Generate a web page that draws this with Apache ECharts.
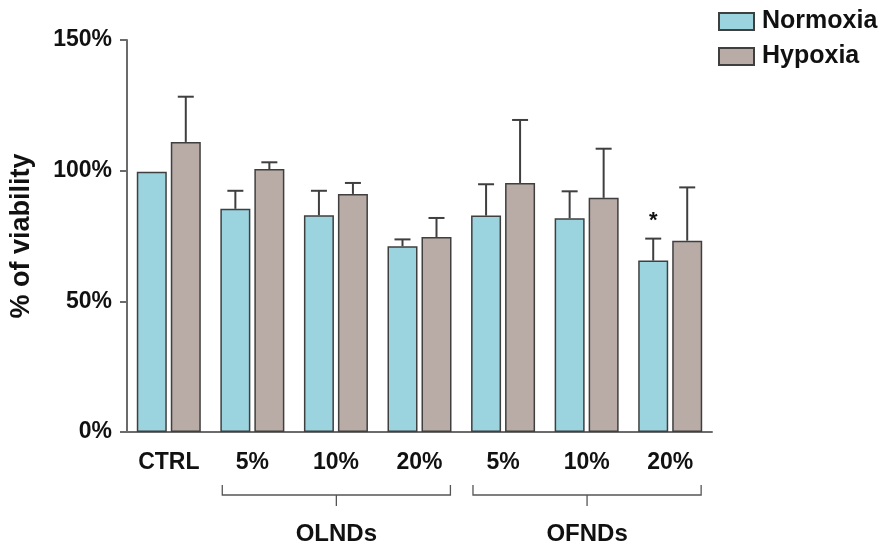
<!DOCTYPE html>
<html>
<head>
<meta charset="utf-8">
<script src="https://cdn.jsdelivr.net/npm/echarts@6/dist/echarts.min.js"></script>
<style>html,body{margin:0;padding:0;background:#fff}#c{width:888px;height:545px}</style>
</head>
<body>
<div id="c"></div>
<script>
// ---- data ----
const categories = ['CTRL', '5%', '10%', '20%', '5%', '10%', '20%'];
const normoxia    = [99.6, 85.4, 82.9, 71.1, 82.8, 81.8, 65.6];
const normoxiaSD  = [0,    6.9,  9.4,  2.6, 12.0, 10.3,  8.4];
const hypoxia     = [111.0, 100.6, 91.1, 74.6, 95.3, 89.6, 73.2];
const hypoxiaSD   = [17.3,  2.6,  4.2,  7.3, 24.1, 18.8, 20.4];
const normoxiaSig = ['', '', '', '', '', '', '*'];
const yTicks = [0, 50, 100, 150];
const groups = [
  { name: 'OLNDs', from: 1, to: 3 },
  { name: 'OFNDs', from: 4, to: 6 }
];

// ---- styling ----
const FONT = '"Liberation Sans", Arial, sans-serif';
const C_N = '#9bd3df';
const C_H = '#b9aca7';
const EDGE = '#3f3f3f';
const BAR_W = 30;
const BAR_GAP_PX = 4;
const OFFSET = (BAR_W + BAR_GAP_PX) / 2;

function errSeries(vals, sds, sign, sig) {
  return {
    type: 'custom',
    silent: true,
    z: 5,
    data: vals.map((v, i) => [i, v, sds[i]]),
    renderItem: function (params, api) {
      const i = api.value(0), v = api.value(1), sd = api.value(2);
      const base = api.coord([i, v]);
      const top = api.coord([i, v + sd]);
      const x = base[0] + sign * OFFSET;
      const children = [];
      if (sd > 0) {
        children.push({ type: 'line', shape: { x1: x, y1: base[1], x2: x, y2: top[1] },
          style: { stroke: EDGE, lineWidth: 2 } });
        children.push({ type: 'line', shape: { x1: x - 8, y1: top[1], x2: x + 8, y2: top[1] },
          style: { stroke: EDGE, lineWidth: 2 } });
      }
      if (sig && sig[i]) {
        children.push({ type: 'text', style: { text: sig[i], x: x, y: top[1] - 18,
          textAlign: 'center', textVerticalAlign: 'middle',
          font: 'bold 22px ' + FONT, fill: '#111' } });
      }
      return { type: 'group', children: children };
    }
  };
}

const chart = echarts.init(document.getElementById('c'), null, { renderer: 'canvas' });
const option = {
  animation: false,
  backgroundColor: '#fff',
  textStyle: { fontFamily: FONT },
  grid: { left: 125, right: 176, top: 40, bottom: 113 },
  legend: {
    orient: 'vertical', left: 713, top: 4,
    icon: 'rect',
    itemWidth: 35, itemHeight: 17, itemGap: 10,
    data: ['Normoxia', 'Hypoxia'],
    textStyle: { fontSize: 25, fontWeight: 'bold', color: '#111', fontFamily: FONT, padding: [0, 0, 0, 3] }
  },
  xAxis: {
    type: 'category', data: categories,
    axisLine: { lineStyle: { color: '#6b6b6b', width: 2 } },
    axisTick: { alignWithLabel: true, length: 7, lineStyle: { color: '#6b6b6b', width: 2 } },
    axisLabel: { fontSize: 23, fontWeight: 'bold', color: '#111', margin: 19, fontFamily: FONT }
  },
  yAxis: {
    type: 'value', min: yTicks[0], max: yTicks[yTicks.length - 1], interval: 50,
    name: '% of viability', nameLocation: 'middle', nameGap: 92,
    nameTextStyle: { fontSize: 27, fontWeight: 'bold', color: '#111', fontFamily: FONT },
    splitLine: { show: false },
    axisLine: { show: true, lineStyle: { color: '#6b6b6b', width: 2 } },
    axisTick: { show: true, length: 7, lineStyle: { color: '#6b6b6b', width: 2 } },
    axisLabel: { formatter: '{value}%', fontSize: 23, fontWeight: 'bold', color: '#111', margin: 15, fontFamily: FONT }
  },
  series: [
    { name: 'Normoxia', type: 'bar', data: normoxia, barWidth: BAR_W, barGap: (BAR_GAP_PX / BAR_W * 100) + '%',
      itemStyle: { color: C_N, borderColor: EDGE, borderWidth: 1.5 } },
    { name: 'Hypoxia', type: 'bar', data: hypoxia, barWidth: BAR_W,
      itemStyle: { color: C_H, borderColor: EDGE, borderWidth: 1.5 } },
    errSeries(normoxia, normoxiaSD, -1, normoxiaSig),
    errSeries(hypoxia, hypoxiaSD, 1, null)
  ]
};
chart.setOption(option);

// group brackets under the category labels
const graphics = [];
const band = chart.convertToPixel({ xAxisIndex: 0 }, 1) - chart.convertToPixel({ xAxisIndex: 0 }, 0);
const y0 = chart.convertToPixel({ yAxisIndex: 0 }, 0);
groups.forEach(g => {
  const xl = chart.convertToPixel({ xAxisIndex: 0 }, g.from) - band * 0.36;
  const xr = chart.convertToPixel({ xAxisIndex: 0 }, g.to) + band * 0.37;
  const xm = (xl + xr) / 2;
  const yt = y0 + 53, yb = y0 + 63, yn = y0 + 74;
  graphics.push({ type: 'polyline', shape: { points: [[xl, yt], [xl, yb], [xr, yb], [xr, yt]] },
    style: { stroke: '#555', lineWidth: 1.3, fill: null } });
  graphics.push({ type: 'line', shape: { x1: xm, y1: yb, x2: xm, y2: yn },
    style: { stroke: '#555', lineWidth: 1.3 } });
  graphics.push({ type: 'text', style: { text: g.name, x: xm, y: y0 + 102, textAlign: 'center',
    textVerticalAlign: 'middle', font: 'bold 24px ' + FONT, fill: '#111' } });
});
chart.setOption({ graphic: graphics });
</script>
</body>
</html>
